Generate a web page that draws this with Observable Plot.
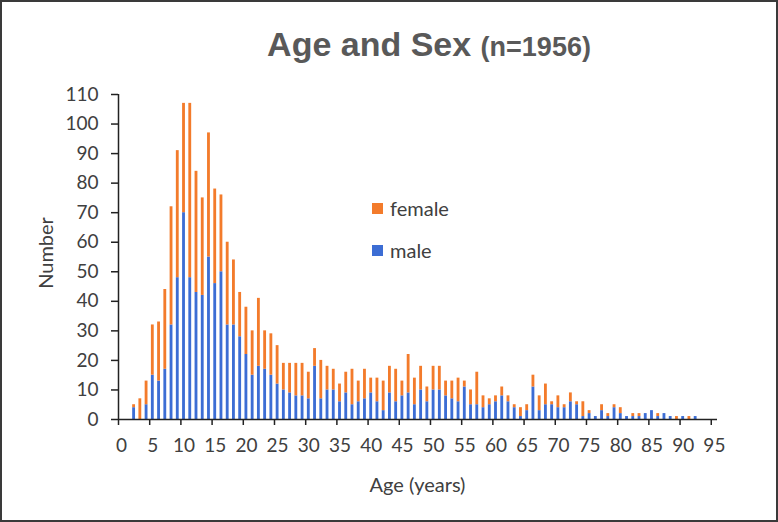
<!DOCTYPE html>
<html><head><meta charset="utf-8">
<script src="https://cdn.jsdelivr.net/npm/d3@7"></script>
<script src="https://cdn.jsdelivr.net/npm/@observablehq/plot@0.6"></script>
<style>
html,body{margin:0;padding:0;background:#fff;}
#wrap{position:relative;width:778px;height:522px;overflow:hidden;}
#wrap svg{display:block;}
#border{position:absolute;left:0;top:0;width:778px;height:522px;box-sizing:border-box;border:2px solid #3a3a3a;pointer-events:none;}
</style></head><body>
<div id="wrap"><div id="border"></div></div>
<script>
const ages = [2,3,4,5,6,7,8,9,10,11,12,13,14,15,16,17,18,19,20,21,22,23,24,25,26,27,28,29,30,31,32,33,34,35,36,37,38,39,40,41,42,43,44,45,46,47,48,49,50,51,52,53,54,55,56,57,58,59,60,61,62,63,64,65,66,67,68,69,70,71,72,73,74,75,76,77,78,79,80,81,82,83,84,85,86,87,88,89,90,91,92];
const male = [4,0,5,15,13,17,32,48,70,48,43,42,55,46,50,32,32,28,22,15,18,17,15,12,10,9,8,8,7,18,7,10,10,6,9,5,6,7,9,6,3,9,6,8,9,5,10,6,10,10,8,7,6,11,5,5,4,5,6,8,6,4,1,3,11,3,5,5,4,4,6,5,1,2,1,3,1,4,2,1,1,1,2,3,1,2,1,0,1,0,1];
const female = [1,7,8,17,20,27,40,43,37,59,41,33,42,32,26,28,22,15,16,15,23,13,14,13,9,10,11,11,9,6,13,8,7,6,7,12,7,10,5,8,10,9,11,5,13,9,8,5,8,8,5,6,8,2,5,11,4,2,2,3,2,1,3,2,4,5,7,1,4,1,3,1,5,1,0,2,1,1,2,0,1,1,0,0,1,0,0,1,0,1,0];
const xTicks = [0,5,10,15,20,25,30,35,40,45,50,55,60,65,70,75,80,85,90,95];
const yTicks = [0,10,20,30,40,50,60,70,80,90,100,110];
const legendNames = ["female","male"];
const colors = {female:"#F37B2B", male:"#3C6DD4"};

const rows = [];
ages.forEach((a,i)=>{
  rows.push({age:a, sex:"male", y1:0, y2:male[i]});
  rows.push({age:a, sex:"female", y1:male[i], y2:male[i]+female[i]});
});
const font = "Lato, 'Open Sans', sans-serif";
const axisColor = "#222";
const chart = Plot.plot({
  width:778, height:522, marginLeft:118, marginRight:61, marginTop:94, marginBottom:103,
  style:{fontFamily:font, background:"transparent", color:"#404040"},
  x:{domain:[0,96]},
  y:{domain:[0,110]},
  color:{domain:["male","female"], range:[colors.male, colors.female]},
  marks:[
    Plot.rect(rows.filter(d=>d.y2>d.y1), {x1:d=>d.age, x2:d=>d.age+1, y1:"y1", y2:"y2", fill:"sex", insetLeft:1.7, insetRight:1.7}),
    Plot.axisY({ticks:yTicks, tickSize:7, tickPadding:13, fontSize:19, stroke:axisColor, strokeWidth:1.5, label:null, fill:"#404040"}),
    Plot.axisX({ticks:xTicks, tickSize:6, tickFormat:()=>"", label:null, stroke:axisColor, strokeWidth:1.5}),
    Plot.axisX({ticks:xTicks.map(k=>k+0.5), tickSize:0, tickPadding:19, tickFormat:d=>String(d-0.5), fontSize:19, label:null, fill:"#404040"}),
    Plot.ruleX([0], {stroke:axisColor, strokeWidth:1.5}),
    Plot.ruleY([0], {stroke:axisColor, strokeWidth:1.5})
  ]
});
document.getElementById("wrap").prepend(chart);
const svg = d3.select(chart);

// Title
const t = svg.append("text").attr("x",429).attr("y",56).attr("text-anchor","middle")
  .style("font-family","'Liberation Sans', Arial, sans-serif").style("font-weight","bold").attr("fill","#595959");
t.append("tspan").style("font-size","34px").text("Age and Sex ");
t.append("tspan").style("font-size","27px").text("(n=1956)");

// Axis titles
svg.append("text").attr("transform","translate(53,253) rotate(-90)").attr("text-anchor","middle")
  .style("font-family",font).style("font-size","20px").attr("fill","#404040").text("Number");
svg.append("text").attr("x",417.5).attr("y",491.5).attr("text-anchor","middle")
  .style("font-family",font).style("font-size","20px").attr("fill","#404040").text("Age (years)");

// Legend
const legendY = {female:203, male:245};
legendNames.forEach(n=>{
  svg.append("rect").attr("x",372).attr("y",legendY[n]).attr("width",11).attr("height",11).attr("fill",colors[n]);
  svg.append("text").attr("x",390).attr("y",legendY[n]+12.5).attr("text-anchor","start")
    .style("font-family",font).style("font-size","20px").attr("fill","#404040").text(n);
});
</script>
</body></html>
